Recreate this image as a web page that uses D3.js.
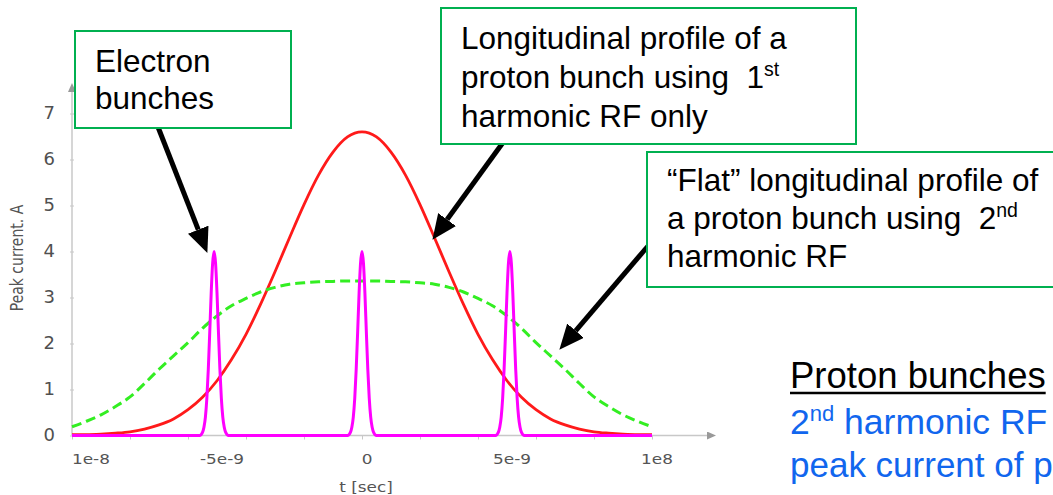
<!DOCTYPE html>
<html>
<head>
<meta charset="utf-8">
<script src="https://cdn.jsdelivr.net/npm/d3@7"></script>
<style>
  html, body { margin: 0; padding: 0; background: #fff; }
  svg { display: block; }
  text { white-space: pre; }
</style>
</head>
<body>
<svg id="chart" width="1053" height="495"></svg>
<script>
// ---------------- data (time in ns) ----------------
const timesNs = [-10, -9.5, -9, -8.5, -8, -7.5, -7, -6.5, -6, -5.5, -5, -4.5, -4, -3.5, -3, -2.5, -2, -1.5, -1, -0.5, 0,
                 0.5, 1, 1.5, 2, 2.5, 3, 3.5, 4, 4.5, 5, 5.5, 6, 6.5, 7, 7.5, 8, 8.5, 9, 9.5, 10];
const firstHarmonic = [0.02, 0.02, 0.03, 0.05, 0.08, 0.14, 0.23, 0.36, 0.56, 0.83, 1.19, 1.65, 2.2, 2.85, 3.56, 4.3, 5.02, 5.66, 6.16, 6.49, 6.6,
                       6.49, 6.16, 5.66, 5.02, 4.3, 3.56, 2.85, 2.2, 1.65, 1.19, 0.83, 0.56, 0.36, 0.23, 0.14, 0.08, 0.05, 0.03, 0.02, 0.02];
const secondHarmonic = [0.19, 0.31, 0.45, 0.63, 0.84, 1.13, 1.44, 1.73, 2.02, 2.33, 2.6, 2.82, 2.98, 3.12, 3.22, 3.29, 3.32, 3.34, 3.35, 3.36, 3.36,
                        3.36, 3.35, 3.34, 3.32, 3.29, 3.22, 3.12, 2.98, 2.82, 2.6, 2.33, 2.02, 1.73, 1.44, 1.13, 0.84, 0.63, 0.45, 0.31, 0.19];

const electronTimesNs = [-10,
  -5.6, -5.5, -5.45, -5.4, -5.35, -5.3, -5.25, -5.2, -5.15, -5.1, -5.05, -5.0, -4.95, -4.9, -4.85, -4.8, -4.75, -4.7, -4.6,
  -0.5, -0.4, -0.35, -0.3, -0.25, -0.2, -0.15, -0.1, -0.05, 0, 0.05, 0.1, 0.15, 0.2, 0.25, 0.3, 0.35, 0.4, 0.5,
  4.6, 4.7, 4.75, 4.8, 4.85, 4.9, 4.95, 5.0, 5.05, 5.1, 5.15, 5.2, 5.25, 5.3, 5.35, 5.4, 5.45, 5.5, 5.6,
  10];
const electronCurrent = [0,
  0, 0.07, 0.18, 0.4, 0.81, 1.44, 2.25, 3.1, 3.75, 4, 3.75, 3.1, 2.25, 1.44, 0.81, 0.4, 0.18, 0.07, 0,
  0, 0.07, 0.18, 0.4, 0.81, 1.44, 2.25, 3.1, 3.75, 4, 3.75, 3.1, 2.25, 1.44, 0.81, 0.4, 0.18, 0.07, 0,
  0, 0.07, 0.18, 0.4, 0.81, 1.44, 2.25, 3.1, 3.75, 4, 3.75, 3.1, 2.25, 1.44, 0.81, 0.4, 0.18, 0.07, 0,
  0];

const yTicks = [0, 1, 2, 3, 4, 5, 6, 7];
const xMinorTicks = [-10, -8, -6, -4, -2, 0, 2, 4, 6, 8, 10];
const xLabelValues = [-10, -5, 0, 5, 10];
const xLabelTexts = ["1e-8", "-5e-9", "0", "5e-9", "1e8"];
const yAxisTitle = "Peak current. A";
const xAxisTitle = "t [sec]";

// ---------------- layout ----------------
const svg = d3.select("#chart");
const x = d3.scaleLinear().domain([-10, 10]).range([72, 652]);
const y = d3.scaleLinear().domain([0, 7]).range([435.5, 113.5]);
const axisColor = "#c8c8c8";

const defs = svg.append("defs");
defs.append("marker").attr("id", "gArrow").attr("markerUnits", "userSpaceOnUse")
  .attr("markerWidth", 10).attr("markerHeight", 10).attr("refX", 0).attr("refY", 4)
  .attr("orient", "auto").append("path").attr("d", "M0,0 L9,4 L0,8 Z").attr("fill", "#999");
defs.append("marker").attr("id", "bArrow").attr("markerUnits", "userSpaceOnUse")
  .attr("markerWidth", 28).attr("markerHeight", 24).attr("refX", 0).attr("refY", 11)
  .attr("orient", "auto").append("path").attr("d", "M0,0 L25,11 L0,22 Z").attr("fill", "#000");

svg.append("line").attr("x1", x(-10)).attr("x2", 707).attr("y1", y(0)).attr("y2", y(0))
  .attr("stroke", axisColor).attr("stroke-width", 1.5).attr("marker-end", "url(#gArrow)");
svg.append("line").attr("x1", x(-10)).attr("x2", x(-10)).attr("y1", y(0)).attr("y2", 92)
  .attr("stroke", axisColor).attr("stroke-width", 1.5).attr("marker-end", "url(#gArrow)");

const xAxis = d3.axisBottom(x).tickValues(xMinorTicks).tickFormat("").tickSize(4).tickSizeOuter(0);
const gx = svg.append("g").attr("transform", `translate(0,${y(0)})`).call(xAxis);
gx.select(".domain").remove();
gx.selectAll(".tick line").attr("stroke", axisColor).attr("stroke-width", 1);

const yAxis = d3.axisLeft(y).tickValues(yTicks).tickSize(4).tickSizeOuter(0).tickFormat(d => d);
const gy = svg.append("g").attr("transform", `translate(${x(-10) + 2},0)`).call(yAxis);
gy.select(".domain").remove();
gy.selectAll(".tick line").attr("stroke", axisColor).attr("stroke-width", 1);
gy.selectAll(".tick text").attr("x", -19).attr("dy", "0.3em")
  .attr("font-family", "DejaVu Sans").attr("font-size", 18).attr("fill", "#505050");

xLabelValues.forEach((v, i) => {
  const px = i === 0 ? x(v) : x(v) + 5;
  svg.append("text")
    .attr("transform", `translate(${px},464) scale(1.25,1)`)
    .attr("text-anchor", i === 0 ? "start" : "middle")
    .attr("font-family", "DejaVu Sans").attr("font-size", 13.5).attr("fill", "#555")
    .text(xLabelTexts[i]);
});
svg.append("text").attr("transform", `translate(366,492) scale(1.25,1)`)
  .attr("text-anchor", "middle").attr("font-family", "DejaVu Sans").attr("font-size", 13.5)
  .attr("fill", "#555").text(xAxisTitle);
svg.append("text").attr("transform", `translate(23,258) rotate(-90) scale(1,1.3)`)
  .attr("text-anchor", "middle").attr("font-family", "DejaVu Sans").attr("font-size", 14)
  .attr("fill", "#555").text(yAxisTitle);

// ---------------- series ----------------
const line = d3.line().x(d => x(d[0])).y(d => y(d[1])).curve(d3.curveMonotoneX);
const redData = timesNs.map((t, i) => [t, firstHarmonic[i]]);
const greenData = timesNs.map((t, i) => [t, secondHarmonic[i]]);
const magData = electronTimesNs.map((t, i) => [t, electronCurrent[i]]);

svg.append("path").datum(redData).attr("d", line).attr("fill", "none")
  .attr("stroke", "#ff1a1a").attr("stroke-width", 2.8);
svg.append("path").datum(greenData).attr("d", line).attr("fill", "none")
  .attr("stroke", "#33ee22").attr("stroke-width", 3).attr("stroke-dasharray", "10,5");
svg.append("path").datum(magData).attr("d", line).attr("fill", "none")
  .attr("stroke", "#ff00ff").attr("stroke-width", 3).attr("stroke-linejoin", "round");

// ---------------- annotations ----------------
const boxColor = "#00b050";
function box(x0, y0, x1, y1) {
  svg.append("rect").attr("x", x0).attr("y", y0).attr("width", x1 - x0).attr("height", y1 - y0)
    .attr("fill", "#fff").attr("stroke", boxColor).attr("stroke-width", 2);
}
function textLine(px, py, parts, size, color) {
  const t = svg.append("text").attr("x", px).attr("y", py)
    .attr("font-family", "Liberation Sans, Arial, sans-serif").attr("font-size", size).attr("fill", color || "#000");
  parts.forEach(p => {
    if (typeof p === "string") t.append("tspan").text(p);
    else t.append("tspan").attr("font-size", size * 0.62).attr("dy", -size * 0.38).text(p.sup);
  });
  return t;
}
function arrow(x0, y0, tipX, tipY) {
  const dx = tipX - x0, dy = tipY - y0, len = Math.hypot(dx, dy);
  const ex = tipX - dx / len * 24, ey = tipY - dy / len * 24;
  svg.append("line").attr("x1", x0).attr("y1", y0).attr("x2", ex).attr("y2", ey)
    .attr("stroke", "#000").attr("stroke-width", 5).attr("marker-end", "url(#bArrow)");
}

arrow(158, 127, 207, 252);
arrow(507, 137, 433, 239);
arrow(648, 246, 560, 349);

box(75, 31, 291, 128);
textLine(95, 72, ["Electron"], 31.5);
textLine(95, 109, ["bunches"], 31.5);

box(441, 8, 856, 144);
textLine(461, 49, ["Longitudinal profile of a"], 31.5);
textLine(461, 88, ["proton bunch using  1", {sup: "st"}], 31.5);
textLine(461, 126.5, ["harmonic RF only"], 31.5);

box(647, 152, 1060, 287);
textLine(667, 191, ["\u201cFlat\u201d longitudinal profile of"], 31.5);
textLine(667, 229, ["a proton bunch using  2", {sup: "nd"}], 31.5);
textLine(667, 267, ["harmonic RF"], 31.5);

const pb = textLine(790, 388, ["Proton bunches"], 36.5);
const w = pb.node().getComputedTextLength();
svg.append("line").attr("x1", 790).attr("x2", 790 + w).attr("y1", 393).attr("y2", 393)
  .attr("stroke", "#000").attr("stroke-width", 2.5);
textLine(790, 434, ["2", {sup: "nd"}], 35.5, "#1166ee")
  .append("tspan").attr("dy", 35.5 * 0.38).text(" harmonic RF");
textLine(790, 477, ["peak current of p"], 35, "#1166ee");
</script>
</body>
</html>
